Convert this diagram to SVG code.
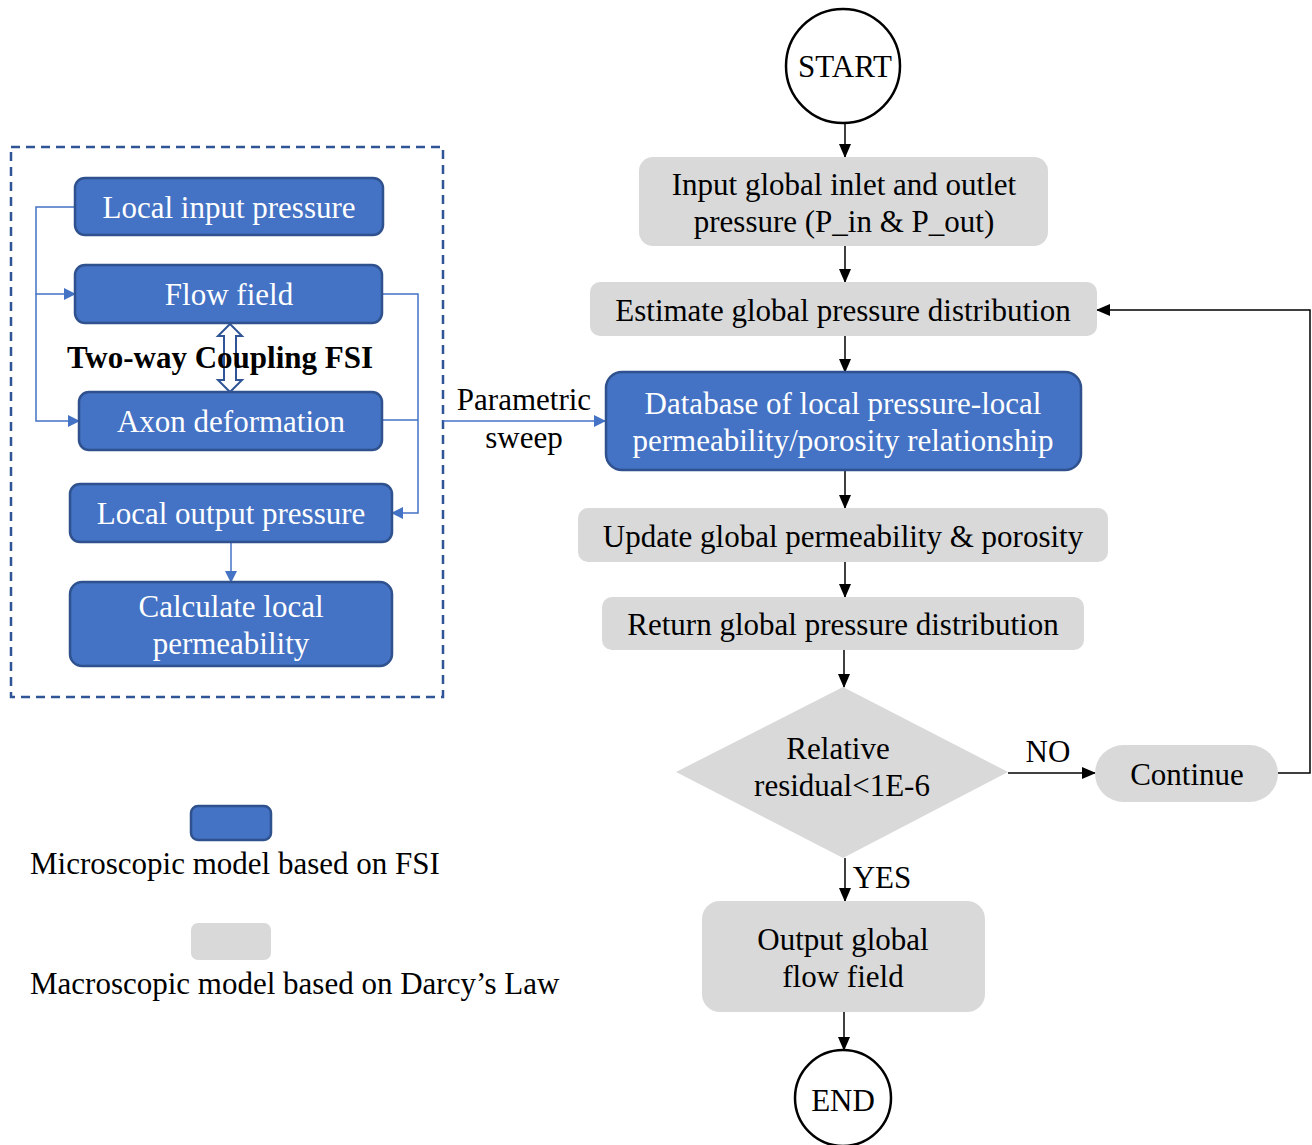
<svg xmlns="http://www.w3.org/2000/svg" width="1312" height="1145" viewBox="0 0 1312 1145">
  <style>
    text { font-family: "Liberation Serif", "Times New Roman", serif; font-size: 31px; text-anchor: middle; }
    .blue { fill: #4472C4; stroke: #2F528F; stroke-width: 2.5; }
    .gray { fill: #D9D9D9; stroke: none; }
    .wt { fill: #FFFFFF; }
    .bt { fill: #000000; }
    .bl { stroke: #4472C4; stroke-width: 1.5; fill: none; }
    .kl { stroke: #000000; stroke-width: 1.5; fill: none; }
  </style>
  <defs>
    <marker id="ab" markerWidth="12" markerHeight="12" refX="11" refY="6" orient="auto" markerUnits="userSpaceOnUse">
      <path d="M0,0 L12,6 L0,12 z" fill="#4472C4"/>
    </marker>
    <marker id="ak" markerWidth="14" markerHeight="14" refX="13" refY="7" orient="auto" markerUnits="userSpaceOnUse">
      <path d="M0,1 L14,7 L0,13 z" fill="#000000"/>
    </marker>
  </defs>
  <rect width="1312" height="1145" fill="#FFFFFF"/>

  <!-- microscopic sub-model frame -->
  <rect x="11" y="147" width="432" height="550" fill="none" stroke="#2F5597" stroke-width="2.5" stroke-dasharray="9,6"/>

  <!-- connectors -->
  <g id="connectors">
    <!-- local FSI loop -->
    <path class="bl" d="M75,207 H36 V294 H75" marker-end="url(#ab)"/>
    <path class="bl" d="M36,294 V421 H79" marker-end="url(#ab)"/>
    <path class="bl" d="M382,294 H418 V513 H392" marker-end="url(#ab)"/>
    <path class="bl" d="M382,420 H418"/>
    <path class="bl" d="M231,542 V582" marker-end="url(#ab)"/>
    <!-- two-way coupling double arrow -->
    <path d="M230,324 L242,336 L236,336 L236,380 L242,380 L230,392 L218,380 L224,380 L224,336 L218,336 Z" fill="#FFFFFF" stroke="#2F5597" stroke-width="2"/>
    <!-- parametric sweep -->
    <path class="bl" d="M443,421 H605" marker-end="url(#ab)"/>
    <!-- global flow -->
    <path class="kl" d="M845,123 V157" marker-end="url(#ak)"/>
    <path class="kl" d="M845,246 V282" marker-end="url(#ak)"/>
    <path class="kl" d="M845,336 V372" marker-end="url(#ak)"/>
    <path class="kl" d="M845,470 V508" marker-end="url(#ak)"/>
    <path class="kl" d="M845,562 V597" marker-end="url(#ak)"/>
    <path class="kl" d="M844,650 V687" marker-end="url(#ak)"/>
    <path class="kl" d="M1008,773 H1095" marker-end="url(#ak)"/>
    <path class="kl" d="M1278,773 H1310 V310 H1097" marker-end="url(#ak)"/>
    <path class="kl" d="M845,858 V901" marker-end="url(#ak)"/>
    <path class="kl" d="M844,1012 V1050" marker-end="url(#ak)"/>
    <text class="bt" x="524" y="410">Parametric</text>
    <text class="bt" x="524" y="448">sweep</text>
    <text class="bt" x="1048" y="762">NO</text>
    <text class="bt" x="882" y="888">YES</text>
  </g>

  <text x="220" y="368" style="font-weight:bold" class="bt">Two-way Coupling FSI</text>

  <g id="local-input">
    <rect class="blue" x="75" y="178" width="308" height="57" rx="10"/>
    <text class="wt" x="229" y="218">Local input pressure</text>
  </g>
  <g id="flow-field">
    <rect class="blue" x="75" y="265" width="307" height="58" rx="10"/>
    <text class="wt" x="229" y="305">Flow field</text>
  </g>
  <g id="axon-deformation">
    <rect class="blue" x="79" y="392" width="303" height="58" rx="10"/>
    <text class="wt" x="231" y="432">Axon deformation</text>
  </g>
  <g id="local-output">
    <rect class="blue" x="70" y="484" width="322" height="58" rx="10"/>
    <text class="wt" x="231" y="524">Local output pressure</text>
  </g>
  <g id="calc-permeability">
    <rect class="blue" x="70" y="582" width="322" height="84" rx="12"/>
    <text class="wt" x="231" y="617">Calculate local</text>
    <text class="wt" x="231" y="654">permeability</text>
  </g>

  <g id="start">
    <circle cx="843" cy="66" r="57" fill="#FFFFFF" stroke="#000000" stroke-width="2.5"/>
    <text class="bt" x="845" y="77">START</text>
  </g>
  <g id="input-global">
    <rect class="gray" x="639" y="157" width="409" height="89" rx="14"/>
    <text class="bt" x="844" y="195">Input global inlet and outlet</text>
    <text class="bt" x="844" y="232">pressure (P_in &amp; P_out)</text>
  </g>
  <g id="estimate">
    <rect class="gray" x="590" y="282" width="507" height="54" rx="10"/>
    <text class="bt" x="843" y="321">Estimate global pressure distribution</text>
  </g>
  <g id="database">
    <rect class="blue" x="606" y="372" width="475" height="98" rx="16"/>
    <text class="wt" x="843" y="414">Database of local pressure-local</text>
    <text class="wt" x="843" y="451">permeability/porosity relationship</text>
  </g>
  <g id="update">
    <rect class="gray" x="578" y="508" width="530" height="54" rx="10"/>
    <text class="bt" x="843" y="547">Update global permeability &amp; porosity</text>
  </g>
  <g id="return">
    <rect class="gray" x="602" y="597" width="482" height="53" rx="10"/>
    <text class="bt" x="843" y="635">Return global pressure distribution</text>
  </g>
  <g id="residual-check">
    <path class="gray" d="M843,687 L1008,772 L843,858 L676,772 Z"/>
    <text class="bt" x="838" y="759">Relative</text>
    <text class="bt" x="842" y="796">residual&lt;1E-6</text>
  </g>
  <g id="continue">
    <rect class="gray" x="1095" y="745" width="183" height="57" rx="28.5"/>
    <text class="bt" x="1187" y="785">Continue</text>
  </g>
  <g id="output-global">
    <rect class="gray" x="702" y="901" width="283" height="111" rx="18"/>
    <text class="bt" x="843" y="950">Output global</text>
    <text class="bt" x="843" y="987">flow field</text>
  </g>
  <g id="end">
    <circle cx="843" cy="1098" r="48" fill="#FFFFFF" stroke="#000000" stroke-width="2.5"/>
    <text class="bt" x="843" y="1111">END</text>
  </g>

  <g id="legend">
    <rect class="blue" x="191" y="806" width="80" height="34" rx="7"/>
    <text class="bt" x="30" y="874" style="text-anchor:start">Microscopic model based on FSI</text>
    <rect class="gray" x="191" y="923" width="80" height="37" rx="7"/>
    <text class="bt" x="30" y="994" style="text-anchor:start">Macroscopic model based on Darcy’s Law</text>
  </g>
</svg>
